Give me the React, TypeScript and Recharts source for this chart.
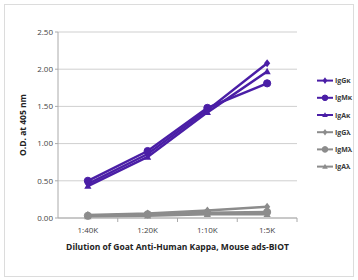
import React from "react";
import { LineChart, Line, XAxis, YAxis, CartesianGrid, Legend } from "recharts";

const categories = ["1:40K", "1:20K", "1:10K", "1:5K"];
const igGk = [0.46, 0.86, 1.45, 2.08];
const igMk = [0.5, 0.9, 1.48, 1.81];
const igAk = [0.43, 0.82, 1.42, 1.97];
const igGl = [0.04, 0.06, 0.1, 0.15];
const igMl = [0.03, 0.05, 0.07, 0.08];
const igAl = [0.02, 0.03, 0.05, 0.05];
const yTicks = [0, 0.5, 1, 1.5, 2, 2.5];

const PURPLE = "#4a1ea6";
const GRAY = "#8c8c8c";

const seriesDefs = [
  { key: "IgGκ", values: igGk, color: PURPLE, marker: "diamond" },
  { key: "IgMκ", values: igMk, color: PURPLE, marker: "circle" },
  { key: "IgAκ", values: igAk, color: PURPLE, marker: "triangle" },
  { key: "IgGλ", values: igGl, color: GRAY, marker: "diamond" },
  { key: "IgMλ", values: igMl, color: GRAY, marker: "circle" },
  { key: "IgAλ", values: igAl, color: GRAY, marker: "triangle" },
];

const data = categories.map((c, i) => {
  const row: any = { cat: c };
  seriesDefs.forEach((s) => (row[s.key] = s.values[i]));
  return row;
});

function markerEl(type: string, cx: number, cy: number, color: string, r: number, key?: any) {
  if (type === "circle") return <circle key={key} cx={cx} cy={cy} r={r} fill={color} stroke={color} />;
  if (type === "diamond")
    return (
      <path
        key={key}
        d={`M${cx},${cy - r - 0.5}L${cx + r - 0.5},${cy}L${cx},${cy + r + 0.5}L${cx - r + 0.5},${cy}Z`}
        fill={color}
      />
    );
  return (
    <path
      key={key}
      d={`M${cx},${cy - r}L${cx + r},${cy + r * 0.75}L${cx - r},${cy + r * 0.75}Z`}
      fill={color}
    />
  );
}

const makeDot = (type: string, color: string) => (props: any) => {
  const { cx, cy, index } = props;
  if (cx == null || cy == null) return <g key={index} />;
  return markerEl(type, cx, cy, color, 3.6, index);
};

const FONT = "'Open Sans', 'DejaVu Sans', sans-serif";

const XTick = (props: any) => {
  const { x, y, payload } = props;
  const off = payload?.offset ?? 0;
  return (
    <g>
      <line x1={x + off} y1={y - 8} x2={x + off} y2={y - 4} stroke="#aaa" />
      <text x={x} y={y + 7} textAnchor="middle" fontSize={8} fill="#444" fontFamily={FONT}>
        {payload.value}
      </text>
    </g>
  );
};

const ROW = 17.2;

const LegendContent = () => {
  return (
    <svg width={36} height={ROW * seriesDefs.length} style={{ display: "block" }}>
      {seriesDefs.map((def, i) => {
        const cy = ROW * i + ROW / 2;
        return (
          <g key={i}>
            <line x1={0} y1={cy} x2={16} y2={cy} stroke={def.color} strokeWidth={2} />
            {markerEl(def.marker, 8, cy, def.color, 2.8)}
            <text
              x={18}
              y={cy + 2.5}
              fontSize={7}
              fontWeight={700}
              fill="#3a3a3a"
              fontFamily={FONT}
            >
              {def.key}
            </text>
          </g>
        );
      })}
    </svg>
  );
};

export default function App() {
  return (
    <div
      style={{
        position: "absolute",
        left: 4,
        top: 4,
        width: 350,
        height: 273,
        border: "1px solid #dcdcdc",
        boxSizing: "border-box",
        background: "#fff",
      }}
    >
      <LineChart
        width={348}
        height={271}
        data={data}
        margin={{ top: 27, right: 20, bottom: 28, left: 12 }}
        style={{ fontFamily: FONT }}
      >
        <CartesianGrid vertical={false} stroke="#cfcfcf" />
        <XAxis
          dataKey="cat"
          scale="band"
          tick={<XTick />}
          tickLine={false}
          axisLine={{ stroke: "#aaa" }}
          height={30}
          interval={0}
          label={{
            value: "Dilution of Goat Anti-Human Kappa, Mouse ads-BIOT",
            position: "insideBottom",
            offset: -2,
            fontSize: 8.5,
            fontWeight: 700,
            fill: "#222",
            fontFamily: FONT,
          }}
        />
        <YAxis
          domain={[0, 2.5]}
          ticks={yTicks}
          tickFormatter={(v: number) => v.toFixed(2)}
          tick={{ fontSize: 8, fill: "#444", fontFamily: FONT }}
          tickLine={{ stroke: "#aaa" }}
          tickSize={3}
          axisLine={{ stroke: "#aaa" }}
          width={41}
          label={{
            value: "O.D. at 405 nm",
            angle: -90,
            position: "insideLeft",
            offset: 6,
            style: { textAnchor: "middle" },
            fontSize: 8.5,
            fontWeight: 700,
            fill: "#222",
            fontFamily: FONT,
          }}
        />
        <Legend
          layout="vertical"
          align="right"
          verticalAlign="top"
          content={<LegendContent />}
          wrapperStyle={{ top: 67, right: 0 }}
        />
        {seriesDefs.map((s) => (
          <Line
            key={s.key}
            dataKey={s.key}
            name={s.key}
            stroke={s.color}
            strokeWidth={2.5}
            dot={makeDot(s.marker, s.color)}
            activeDot={false}
            isAnimationActive={false}
          />
        ))}
      </LineChart>
    </div>
  );
}
